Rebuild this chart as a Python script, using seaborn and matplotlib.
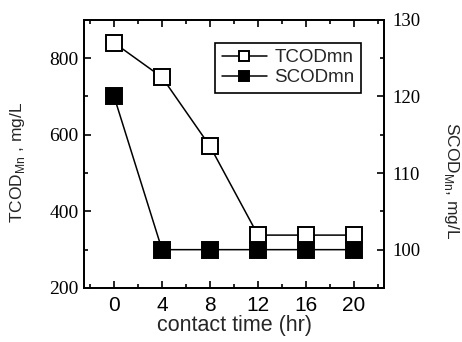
import pandas as pd
import seaborn as sns
import matplotlib.pyplot as plt
from matplotlib.ticker import MultipleLocator

# datos
time_hr = [0, 4, 8, 12, 16, 20]
tcod_mn = [840, 750, 570, 338, 338, 338]
scod_mn = [120, 100, 100, 100, 100, 100]

df = pd.DataFrame({"time": time_hr, "TCODmn": tcod_mn, "SCODmn": scod_mn})

sns.set_style("ticks")
plt.rcParams["font.family"] = ["Liberation Sans", "DejaVu Sans"]
plt.rcParams["mathtext.fontset"] = "custom"
plt.rcParams["mathtext.rm"] = "Liberation Sans"

fig = plt.figure(figsize=(4.62, 3.42), dpi=100)
ax = fig.add_axes([0.182, 0.158, 0.649, 0.784])
ax2 = ax.twinx()

estilo = dict(color="black", marker="s", markersize=11, markeredgecolor="black",
              markeredgewidth=1.4, linewidth=1.1, legend=False)

sns.lineplot(data=df, x="time", y="TCODmn", ax=ax, markerfacecolor="white",
             label="TCODmn", **estilo)
sns.lineplot(data=df, x="time", y="SCODmn", ax=ax2, markerfacecolor="black",
             label="SCODmn", **estilo)

# ejes
ax.set_xlim(-2.5, 22.5)
ax.set_ylim(200, 900)
ax2.set_ylim(95, 130)
ax.xaxis.set_major_locator(MultipleLocator(4))
ax.xaxis.set_minor_locator(MultipleLocator(2))
ax.yaxis.set_major_locator(MultipleLocator(200))
ax.yaxis.set_minor_locator(MultipleLocator(100))
ax2.yaxis.set_major_locator(MultipleLocator(10))
ax2.yaxis.set_minor_locator(MultipleLocator(5))

ax.tick_params(which="both", direction="in", top=True, right=False, width=1.2, colors="black")
ax.tick_params(which="major", length=5)
ax.tick_params(which="minor", length=3)
ax2.tick_params(which="both", direction="in", right=True, width=1.2, colors="black")
ax2.tick_params(which="major", length=5)
ax2.tick_params(which="minor", length=3)

ax.tick_params(axis="x", labelsize=15, pad=6)
ax.tick_params(axis="y", labelsize=14, pad=4, labelfontfamily="Liberation Serif")
ax2.tick_params(axis="y", labelsize=13.5, pad=6, labelfontfamily="Liberation Serif")

for a in (ax, ax2):
    for s in a.spines.values():
        s.set_linewidth(1.3)
        s.set_color("black")

ax.set_xlabel("contact time (hr)", fontsize=15.5, labelpad=0)
ax.set_ylabel(r"TCOD$_{\mathrm{Mn}}$ , mg/L", fontsize=12.5)
ax.yaxis.set_label_coords(-0.19, 0.47)
ax2.set_ylabel(r"SCOD$_{\mathrm{Mn}}$, mg/L", fontsize=12.5, rotation=270, va="bottom")
ax2.yaxis.set_label_coords(1.195, 0.40)

h1, l1 = ax.get_legend_handles_labels()
h2, l2 = ax2.get_legend_handles_labels()
leg = ax2.legend(h1 + h2, l1 + l2, loc="upper right", bbox_to_anchor=(0.955, 0.95),
                 fontsize=13.5, fancybox=False, framealpha=1, edgecolor="black",
                 handlelength=2.4, borderpad=0.35, labelspacing=0.15, handletextpad=0.4,
                 markerscale=0.6)
leg.get_frame().set_linewidth(1.2)

fig.savefig("out.png", dpi=100)
